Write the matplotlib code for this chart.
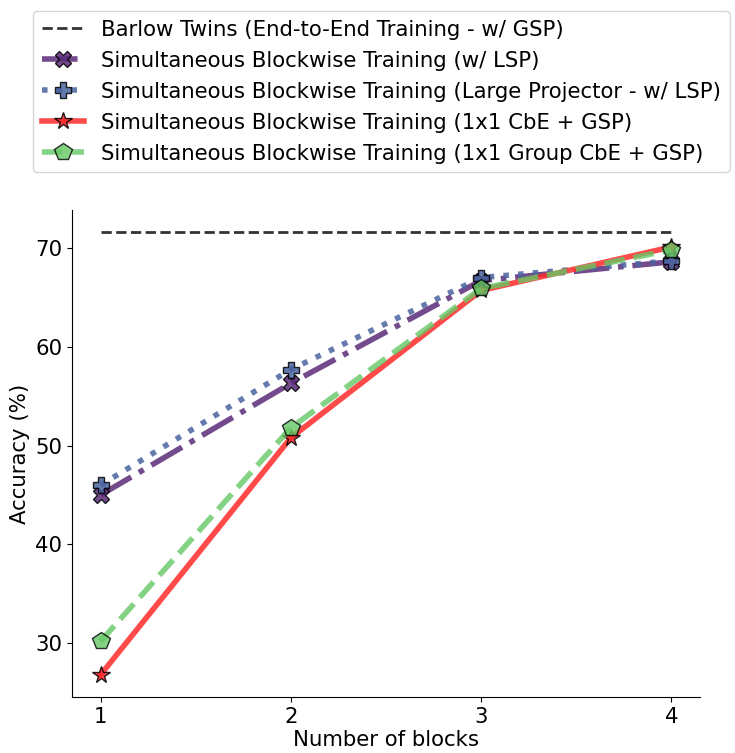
import matplotlib
matplotlib.use("Agg")
import matplotlib.pyplot as plt

# data
blocks = [1, 2, 3, 4]
barlow_twins = [71.6, 71.6, 71.6, 71.6]
sim_lsp = [45.0, 56.3, 66.7, 68.6]
sim_large_proj = [46.0, 57.7, 67.0, 68.7]
sim_cbe_gsp = [26.8, 50.8, 65.7, 70.1]
sim_group_cbe_gsp = [30.2, 51.8, 65.9, 69.8]

labels = ['Barlow Twins (End-to-End Training - w/ GSP)',
          'Simultaneous Blockwise Training (w/ LSP)',
          'Simultaneous Blockwise Training (Large Projector - w/ LSP)',
          'Simultaneous Blockwise Training (1x1 CbE + GSP)',
          'Simultaneous Blockwise Training (1x1 Group CbE + GSP)']

plt.rcParams['font.size'] = 15.3

fig = plt.figure(figsize=(7.35, 7.53), dpi=100)
ax = fig.add_axes([72/735, 1-697/753, (700-72)/735, (697-210)/753])

ax.plot(blocks, barlow_twins, linestyle='--', color='#333333', linewidth=2, label=labels[0])
ax.plot(blocks, sim_lsp, linestyle='-.', color='#5a2a78', alpha=0.85, linewidth=4,
        marker='X', markersize=12, markeredgecolor='black', markeredgewidth=1, label=labels[1])
ax.plot(blocks, sim_large_proj, linestyle=':', color='#4a64a0', alpha=0.85, linewidth=4,
        marker='P', markersize=12, markeredgecolor='black', markeredgewidth=1, label=labels[2])
ax.plot(blocks, sim_cbe_gsp, linestyle='-', color='#ff2a2a', alpha=0.85, linewidth=4,
        marker='*', markersize=13, markeredgecolor='black', markeredgewidth=1, label=labels[3])
ax.plot(blocks, sim_group_cbe_gsp, linestyle='--', color='#66c766', alpha=0.8, linewidth=4,
        marker='p', markersize=13, markeredgecolor='black', markeredgewidth=1, label=labels[4])

ax.set_xticks(blocks)
ax.set_yticks([30, 40, 50, 60, 70])
ax.set_xlabel('Number of blocks', labelpad=2)
ax.set_ylabel('Accuracy (%)')
ax.spines['top'].set_visible(False)
ax.spines['right'].set_visible(False)

fig.legend(loc='upper left', bbox_to_anchor=(33/735, 1-11/753), bbox_transform=fig.transFigure,
           borderaxespad=0, fontsize=15.3, handlelength=2, labelspacing=0.52)

fig.savefig('out.png', dpi=100)
